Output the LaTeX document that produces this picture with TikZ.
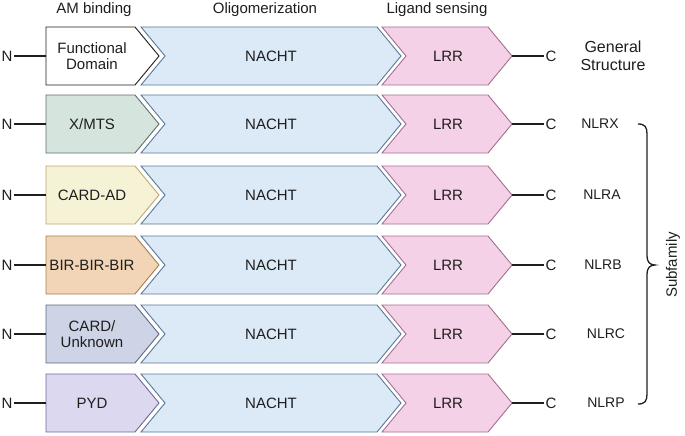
\documentclass[tikz,border=0pt]{standalone}
\usepackage{fontspec}
\setmainfont{Liberation Sans}
\definecolor{ink}{HTML}{1E1E1E}
\definecolor{nachtfill}{HTML}{DCE9F7}
\definecolor{nachtline}{HTML}{5B7897}
\definecolor{lrrfill}{HTML}{F5D1E7}
\definecolor{lrrline}{HTML}{A0718E}
\definecolor{xfill}{HTML}{D6E4DE}
\definecolor{xline}{HTML}{5E6E68}
\definecolor{afill}{HTML}{F6F2D5}
\definecolor{aline}{HTML}{B9AB70}
\definecolor{bfill}{HTML}{F1D5B6}
\definecolor{bline}{HTML}{A37E55}
\definecolor{cfill}{HTML}{CDD4E6}
\definecolor{cline}{HTML}{5F6782}
\definecolor{pfill}{HTML}{DCD8F0}
\definecolor{pline}{HTML}{6E6894}
\begin{document}
\begin{tikzpicture}[x=1pt,y=-1pt,
  every node/.style={font=\fontsize{15}{16}\selectfont, text=ink},
  dom/.style={line width=0.9pt, line join=miter},
  tail/.style={line width=1.5pt, draw=ink},
  term/.style={inner sep=1.5pt},
  lbl/.style={align=center}]
\useasboundingbox (0,0) rectangle (685,436);

\node (amb) at (94,10) {AM binding};
\node (olig) at (265,10) {Oligomerization};
\node (lig) at (437,10) {Ligand sensing};

\foreach \i/\y/\txt/\fc/\lc/\fam/\fx/\fs in {
  1/56/{Functional\\Domain}/white/ink/{General\\Structure}/613/16,
  2/124/{X/MTS}/xfill/xline/NLRX/600/14,
  3/195/{CARD-AD}/afill/aline/NLRA/602/14,
  4/265/{BIR-BIR-BIR}/bfill/bline/NLRB/603/14,
  5/334/{CARD/\\Unknown}/cfill/cline/NLRC/606/14,
  6/403/{PYD}/pfill/pline/NLRP/606/14}{
  \draw[dom, fill=\fc, draw=\lc] (46,\y-29) -- (135,\y-29) -- (159,\y) -- (135,\y+29) -- (46,\y+29) -- cycle;
  \node[lbl] (fd\i) at (92,\y) {\txt};
  \draw[dom, fill=nachtfill, draw=nachtline] (141,\y-29) -- (377,\y-29) -- (401,\y) -- (377,\y+29) -- (141,\y+29) -- (165,\y) -- cycle;
  \node (nacht\i) at (271,\y) {NACHT};
  \draw[dom, fill=lrrfill, draw=lrrline] (382,\y-29) -- (488,\y-29) -- (512,\y) -- (488,\y+29) -- (382,\y+29) -- (406,\y) -- cycle;
  \node (lrr\i) at (448,\y) {LRR};
  \node[term] (n\i) at (7,\y) {N};
  \coordinate (in\i) at (46,\y);
  \coordinate (out\i) at (512,\y);
  \node[term] (c\i) at (551,\y) {C};
  \draw[tail] (n\i) -- (in\i);
  \draw[tail] (out\i) -- (c\i);
  \node[lbl, font=\fontsize{\fs}{18}\selectfont] (fam\i) at (\fx,\y) {\fam};
}

\draw[line width=1.3pt, draw=ink] (638,124) .. controls (645,124) and (647,127) .. (647,134) -- (647,256)
  .. controls (647,262) and (650,265) .. (655,265) .. controls (650,265) and (647,268) .. (647,274)
  -- (647,394) .. controls (647,401) and (645,404) .. (638,404);
\node[rotate=90] (sub) at (673,265) {Subfamily};
\end{tikzpicture}
\end{document}
